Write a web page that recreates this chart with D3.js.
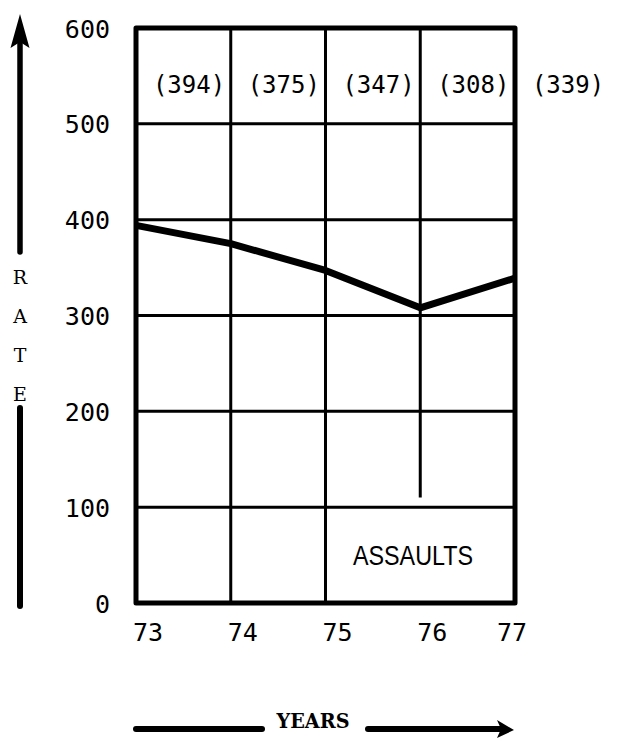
<!DOCTYPE html>
<html>
<head>
<meta charset="utf-8">
<script src="https://cdn.jsdelivr.net/npm/d3@7"></script>
<style>
  html, body { margin: 0; padding: 0; background: #fff; }
  svg { display: block; }
</style>
</head>
<body>
<svg id="chart" width="624" height="738"></svg>
<script>
// ---- data ----
const years = [73, 74, 75, 76, 77];
const rates = [394, 375, 347, 308, 339];
const valueLabels = ["(394)", "(375)", "(347)", "(308)", "(339)"];
const xTickLabels = ["73", "74", "75", "76", "77"];
const yTicks = [0, 100, 200, 300, 400, 500, 600];
const yTickLabels = ["0", "100", "200", "300", "400", "500", "600"];
const yTitleLetters = ["R", "A", "T", "E"];
const xTitle = "YEARS";
const panelTitle = "ASSAULTS";

// ---- layout ----
const pLeft = 136, pRight = 515, pTop = 28, pBottom = 603;
const svg = d3.select("#chart");
const x = d3.scaleLinear().domain([73, 77]).range([pLeft, pRight]);
const y = d3.scaleLinear().domain([0, 600]).range([pBottom, pTop]);
const step = x(74) - x(73);
const monoSans = "'DejaVu Sans Mono', monospace";
const typeSerif = "'DejaVu Serif', serif";

// horizontal gridlines
svg.append("g").selectAll("line")
  .data(yTicks.filter(v => v > 0 && v < 600))
  .join("line")
  .attr("x1", pLeft).attr("x2", pRight)
  .attr("y1", d => y(d)).attr("y2", d => y(d))
  .attr("stroke", "#000").attr("stroke-width", 3);

// vertical gridlines (76 stops above the ASSAULTS panel)
const vStop = { 76: 110 };
svg.append("g").selectAll("line")
  .data(years.slice(1, -1))
  .join("line")
  .attr("x1", d => x(d)).attr("x2", d => x(d))
  .attr("y1", pTop)
  .attr("y2", d => vStop[d] !== undefined ? y(vStop[d]) : pBottom)
  .attr("stroke", "#000").attr("stroke-width", 3);

// frame
svg.append("rect")
  .attr("x", pLeft).attr("y", pTop)
  .attr("width", pRight - pLeft).attr("height", pBottom - pTop)
  .attr("fill", "none").attr("stroke", "#000").attr("stroke-width", 5)
  .attr("stroke-linejoin", "round");

// data line
const line = d3.line().x((d, i) => x(years[i])).y(d => y(d));
svg.append("path")
  .datum(rates)
  .attr("d", line)
  .attr("fill", "none").attr("stroke", "#000")
  .attr("stroke-width", 7).attr("stroke-linejoin", "round");

// value labels
svg.append("g").selectAll("text")
  .data(valueLabels)
  .join("text")
  .attr("x", (d, i) => x(years[i]) + step * 0.56)
  .attr("y", 93)
  .attr("text-anchor", "middle")
  .attr("font-family", monoSans).attr("font-size", 24)
  .attr("fill", "#000")
  .text(d => d);

// y axis tick labels
const yAxis = d3.axisLeft(y).tickValues(yTicks)
  .tickFormat((d, i) => yTickLabels[i]).tickSize(0).tickPadding(26);
const ya = svg.append("g").attr("transform", `translate(${pLeft},0)`).call(yAxis);
ya.select(".domain").remove();
ya.selectAll("text")
  .attr("font-family", monoSans).attr("font-size", 25)
  .attr("fill", "#000").attr("dy", "0.36em");

// x tick labels
svg.append("g").selectAll("text")
  .data(xTickLabels)
  .join("text")
  .attr("x", (d, i) => i === xTickLabels.length - 1 ? x(years[i]) + 12 : x(years[i]) - 3)
  .attr("y", 641)
  .attr("text-anchor", (d, i) => i === xTickLabels.length - 1 ? "end" : "start")
  .attr("font-family", monoSans).attr("font-size", 25)
  .attr("fill", "#000")
  .text(d => d);

// panel title
svg.append("text")
  .attr("x", 413).attr("y", 565)
  .attr("text-anchor", "middle")
  .attr("font-family", "'Liberation Sans', Arial, sans-serif")
  .attr("font-size", 27)
  .attr("textLength", 120).attr("lengthAdjust", "spacingAndGlyphs")
  .attr("fill", "#000")
  .text(panelTitle);

// y title (vertical letters) + arrow
svg.append("g").selectAll("text")
  .data(yTitleLetters)
  .join("text")
  .attr("x", 20).attr("y", (d, i) => 284 + i * 39)
  .attr("text-anchor", "middle")
  .attr("font-family", typeSerif).attr("font-size", 19)
  .attr("fill", "#000")
  .text(d => d);

svg.append("line").attr("x1", 20).attr("x2", 20).attr("y1", 40).attr("y2", 252)
  .attr("stroke", "#000").attr("stroke-width", 5.5).attr("stroke-linecap", "round");
svg.append("path").attr("d", "M20,14 L29.5,48 L20,42 L10.5,48 Z").attr("fill", "#000");
svg.append("line").attr("x1", 20).attr("x2", 20).attr("y1", 408).attr("y2", 606)
  .attr("stroke", "#000").attr("stroke-width", 6).attr("stroke-linecap", "round");

// x title + arrow
svg.append("text")
  .attr("x", 313).attr("y", 728)
  .attr("text-anchor", "middle")
  .attr("font-family", typeSerif).attr("font-size", 21).attr("font-weight", "bold")
  .attr("textLength", 73).attr("lengthAdjust", "spacingAndGlyphs")
  .attr("fill", "#000")
  .text(xTitle);
svg.append("line").attr("x1", 136).attr("x2", 262).attr("y1", 729).attr("y2", 729)
  .attr("stroke", "#000").attr("stroke-width", 6).attr("stroke-linecap", "round");
svg.append("line").attr("x1", 368).attr("x2", 500).attr("y1", 729).attr("y2", 729)
  .attr("stroke", "#000").attr("stroke-width", 6).attr("stroke-linecap", "round");
svg.append("path").attr("d", "M514,730 L497,720 L501,729 L497,738 Z").attr("fill", "#000");
</script>
</body>
</html>
